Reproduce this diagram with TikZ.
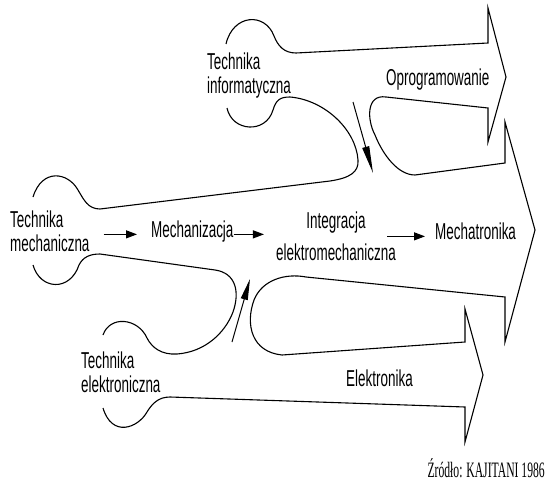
\documentclass[tikz,border=0pt]{standalone}
\usepackage{fontspec}
\setmainfont{Liberation Sans}[FakeStretch=0.585]
\newfontfamily\srcfont{Liberation Serif}[FakeStretch=0.53]
\usetikzlibrary{arrows.meta,calc,positioning}

\begin{document}
\begin{tikzpicture}[x=1pt,y=-1pt,
    lbl/.style={inner sep=0pt,font=\fontsize{23}{24}\selectfont},
    outline/.style={line width=1.1pt},
    flow/.style={line width=1.1pt,-{Triangle[length=11pt,width=8pt]}}]
  \useasboundingbox (0,0) rectangle (546,484);
  % labels
  \node[lbl,anchor=north west,align=left] (tinf) at (207,53) {Technika\\informatyczna};
  \node[lbl,anchor=base west] (oprog) at (386,86) {Oprogramowanie};
  \node[lbl,anchor=north west,align=left] (tmech) at (10,211) {Technika\\mechaniczna};
  \node[lbl,anchor=base west] (mechz) at (151,237) {Mechanizacja};
  \node[lbl,anchor=north,align=center] (integ) at (336,212) {Integracja\\[8pt]elektromechaniczna};
  \node[lbl,anchor=base west] (mechat) at (435,239) {Mechatronika};
  \node[lbl,anchor=north west,align=left] (tel) at (81,352) {Technika\\elektroniczna};
  \node[lbl,anchor=base west] (elek) at (346,386) {Elektronika};
  \node[inner sep=0pt,anchor=base east,font=\fontsize{22}{24}\srcfont] (src) at (545,477) {Źródło: KAJITANI 1986};

  % outer outline: informatyczna, the three heads, elektroniczna
  \draw[outline] (226,44) .. controls (233,14) and (265,12) .. (274,36)
    .. controls (278,46) and (284,53) .. (296,53) -- (488,43) -- (488,8) -- (506,77) -- (488,142) -- (488,108)
    -- (386,97) .. controls (366,94) and (367,120) .. (375,135)
    .. controls (383,155) and (398,175) .. (415,175) -- (505,163) -- (505,122) -- (535,230) -- (505,342) -- (505,297)
    -- (306,277) .. controls (285,273) and (262,280) .. (254,300)
    .. controls (245,325) and (252,352) .. (282,355) -- (465,342) -- (465,309) -- (483,375) -- (465,442) -- (465,407)
    -- (170,397) .. controls (158,397) and (152,404) .. (147,412)
    .. controls (138,428) and (112,438) .. (103,408);
  % informatyczna -> mechaniczna
  \draw[outline] (227,108) .. controls (232,132) and (266,134) .. (273,110)
    .. controls (276,100) and (280,97) .. (290,97)
    .. controls (325,100) and (356,130) .. (358,160)
    .. controls (359,172) and (350,178) .. (330,181) -- (100,209)
    .. controls (88,209) and (84,200) .. (78,190)
    .. controls (68,172) and (42,168) .. (33,197);
  % mechaniczna -> elektroniczna
  \draw[outline] (33,265) .. controls (40,290) and (70,292) .. (79,265)
    .. controls (83,257) and (90,254) .. (100,254) -- (215,270)
    .. controls (236,273) and (240,292) .. (233,312)
    .. controls (225,333) and (205,352) .. (177,354)
    .. controls (162,355) and (152,348) .. (147,338)
    .. controls (138,318) and (110,315) .. (103,335);

  % merging arrows
  \coordinate (infTail) at (353,102);
  \coordinate (infTip) at (373,173);
  \draw[line width=1pt,-{Triangle[length=27pt,width=7pt]}] (infTail) -- (infTip);
  \coordinate (elTail) at (232,342);
  \coordinate (elTip) at (250,279);
  \draw[line width=1pt,-{Triangle[length=21pt,width=7pt]}] (elTail) -- (elTip);

  % main line
  \draw[flow,shorten <=14pt,shorten >=14pt] (tmech.east |- mechz.mid) -- (mechz.mid west);
  \draw[flow,shorten >=12pt] (mechz.mid east) -- (mechz.mid east -| integ.west);
  \draw[flow,shorten >=10pt] ([xshift=-9pt]integ.east |- mechat.mid) -- (mechat.mid west);
\end{tikzpicture}
\end{document}
